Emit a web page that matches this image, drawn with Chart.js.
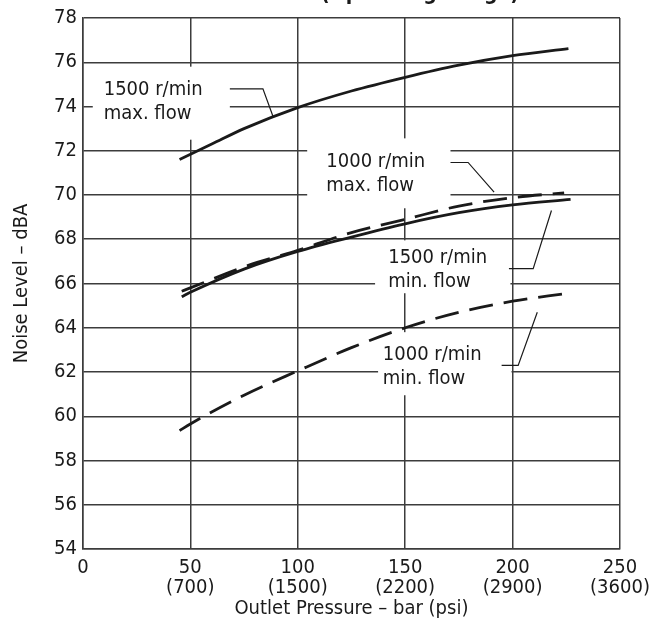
<!DOCTYPE html>
<html>
<head>
<meta charset="utf-8">
<script src="https://cdn.jsdelivr.net/npm/chart.js@4"></script>
<style>
  html, body { margin: 0; padding: 0; background: #fff; }
  #wrap { width: 649px; height: 626px; }
</style>
</head>
<body>
<div id="wrap"><canvas id="noiseChart" width="649" height="626"></canvas></div>
<script>
// tick labels
var pressureBar = [0, 50, 100, 150, 200, 250];
var pressurePsi = ['', '(700)', '(1500)', '(2200)', '(2900)', '(3600)'];

// series (x = bar, y = dBA)
var x1500max = [45, 60, 75, 100, 125, 150, 175, 200, 226];
var y1500max = [71.6, 72.3, 73.0, 73.95, 74.7, 75.32, 75.87, 76.3, 76.62];

var x1000max = [46, 50, 75, 100, 125, 150, 175, 200, 224];
var y1000max = [65.65, 65.8, 66.75, 67.5, 68.3, 68.9, 69.5, 69.88, 70.1];

var x1500min = [46, 50, 75, 100, 125, 150, 175, 200, 227];
var y1500min = [65.4, 65.6, 66.65, 67.45, 68.1, 68.7, 69.2, 69.55, 69.8];

var x1000min = [45, 50, 75, 100, 125, 150, 175, 200, 225];
var y1000min = [59.35, 59.65, 60.95, 62.05, 63.1, 64.0, 64.7, 65.2, 65.55];

// curve labels
var labelText = [
  ['1500 r/min', 'max. flow'],
  ['1000 r/min', 'max. flow'],
  ['1500 r/min', 'min. flow'],
  ['1000 r/min', 'min. flow']
];

function pts(xs, ys) {
  return xs.map(function (x, i) { return { x: x, y: ys[i] }; });
}

var FONT = "'Liberation Sans Narrow', 'DejaVu Sans Condensed', 'Liberation Sans', sans-serif";
var INK = '#1a1a1a';
var GRID = '#3c3c3c';

// label placement in data units
var labelAt = [[9.7, 74.77], [113.3, 71.52], [142.1, 67.15], [139.6, 62.79]];
var boxes = [[4.6, 75.8, 68.4, 72.5], [104.4, 72.56, 171.1, 69.4], [136, 67.95, 199, 65.56], [137.4, 63.8, 199.5, 60.95]];
var leaders = [
  [68.4, 74.8, 83.8, 74.8, 88.5, 73.55],
  [171.1, 71.47, 179.3, 71.47, 191.4, 70.13],
  [198.3, 66.67, 209.6, 66.67, 218.1, 69.3],
  [194.9, 62.3, 202.6, 62.3, 211.5, 64.7]
];

var labelPlugin = {
  id: 'curveLabels',
  beforeDatasetsDraw: function (chart) {
    var ctx = chart.ctx, xs = chart.scales.x, ys = chart.scales.y;
    ctx.save();
    ctx.fillStyle = '#fff';
    boxes.forEach(function (b) {
      var x0 = xs.getPixelForValue(b[0]), y0 = ys.getPixelForValue(b[1]);
      var x1 = xs.getPixelForValue(b[2]), y1 = ys.getPixelForValue(b[3]);
      ctx.fillRect(x0, y0, x1 - x0, y1 - y0);
    });
    ctx.restore();
  },
  afterDatasetsDraw: function (chart) {
    var ctx = chart.ctx, xs = chart.scales.x, ys = chart.scales.y;
    ctx.save();
    ctx.fillStyle = INK;
    ctx.font = '20px ' + FONT;
    ctx.textAlign = 'left';
    ctx.textBaseline = 'middle';
    labelText.forEach(function (t, i) {
      var px = xs.getPixelForValue(labelAt[i][0]);
      var py = ys.getPixelForValue(labelAt[i][1]);
      ctx.fillText(t[0], px, py);
      ctx.fillText(t[1], px, py + 24);
    });
    ctx.strokeStyle = INK;
    ctx.lineWidth = 1.2;
    leaders.forEach(function (l) {
      ctx.beginPath();
      ctx.moveTo(xs.getPixelForValue(l[0]), ys.getPixelForValue(l[1]));
      ctx.lineTo(xs.getPixelForValue(l[2]), ys.getPixelForValue(l[3]));
      ctx.lineTo(xs.getPixelForValue(l[4]), ys.getPixelForValue(l[5]));
      ctx.stroke();
    });
    ctx.restore();
  },
  afterDraw: function (chart) {
    // title, cut off by the top edge in the original
    var ctx = chart.ctx;
    ctx.save();
    ctx.fillStyle = INK;
    ctx.font = 'bold 21px ' + FONT;
    ctx.textAlign = 'right';
    ctx.textBaseline = 'alphabetic';
    ctx.fillText('Noise Level (Operating Range)', 519, 0);
    ctx.restore();
  }
};

function line(xs, ys, dashed) {
  return {
    data: pts(xs, ys),
    borderColor: INK,
    borderWidth: 2.8,
    borderDash: dashed ? [24, 11] : [],
    pointRadius: 0,
    fill: false,
    cubicInterpolationMode: 'monotone'
  };
}

var config = {
  type: 'line',
  data: {
    datasets: [
      line(x1500max, y1500max, false),
      line(x1000max, y1000max, true),
      line(x1500min, y1500min, false),
      line(x1000min, y1000min, true)
    ]
  },
  options: {
    responsive: false,
    animation: false,
    devicePixelRatio: 1,
    layout: { padding: { top: 8, right: 0, left: 10, bottom: 0 } },
    plugins: { legend: { display: false }, tooltip: { enabled: false }, title: { display: false } },
    scales: {
      x: {
        type: 'linear',
        min: 0,
        max: 250,
        afterFit: function (scale) { scale.paddingRight = 29; scale.height = 77; },
        ticks: {
          stepSize: 50,
          color: INK,
          font: { family: FONT, size: 20, lineHeight: 1.0 },
          padding: 9,
          maxRotation: 0,
          callback: function (v) {
            var i = pressureBar.indexOf(v);
            if (i < 0) return '';
            return pressurePsi[i] ? [String(v), pressurePsi[i]] : String(v);
          }
        },
        grid: { color: GRID, lineWidth: 1.5, drawTicks: false },
        border: { color: GRID, width: 1.5 },
        title: {
          display: true,
          text: 'Outlet Pressure \u2013 bar (psi)',
          color: INK,
          font: { family: FONT, size: 20, lineHeight: 1.0 },
          padding: { top: 0, bottom: 7 }
        }
      },
      y: {
        min: 54,
        max: 78,
        ticks: {
          stepSize: 2,
          color: INK,
          font: { family: FONT, size: 20 },
          padding: 6
        },
        grid: { color: GRID, lineWidth: 1.5, drawTicks: false },
        border: { color: GRID, width: 1.5 },
        title: {
          display: true,
          text: 'Noise Level \u2013 dBA',
          color: INK,
          font: { family: FONT, size: 20 },
          padding: { top: 0, bottom: 14 }
        }
      }
    }
  },
  plugins: [labelPlugin]
};

new Chart(document.getElementById('noiseChart'), config);
</script>
</body>
</html>
